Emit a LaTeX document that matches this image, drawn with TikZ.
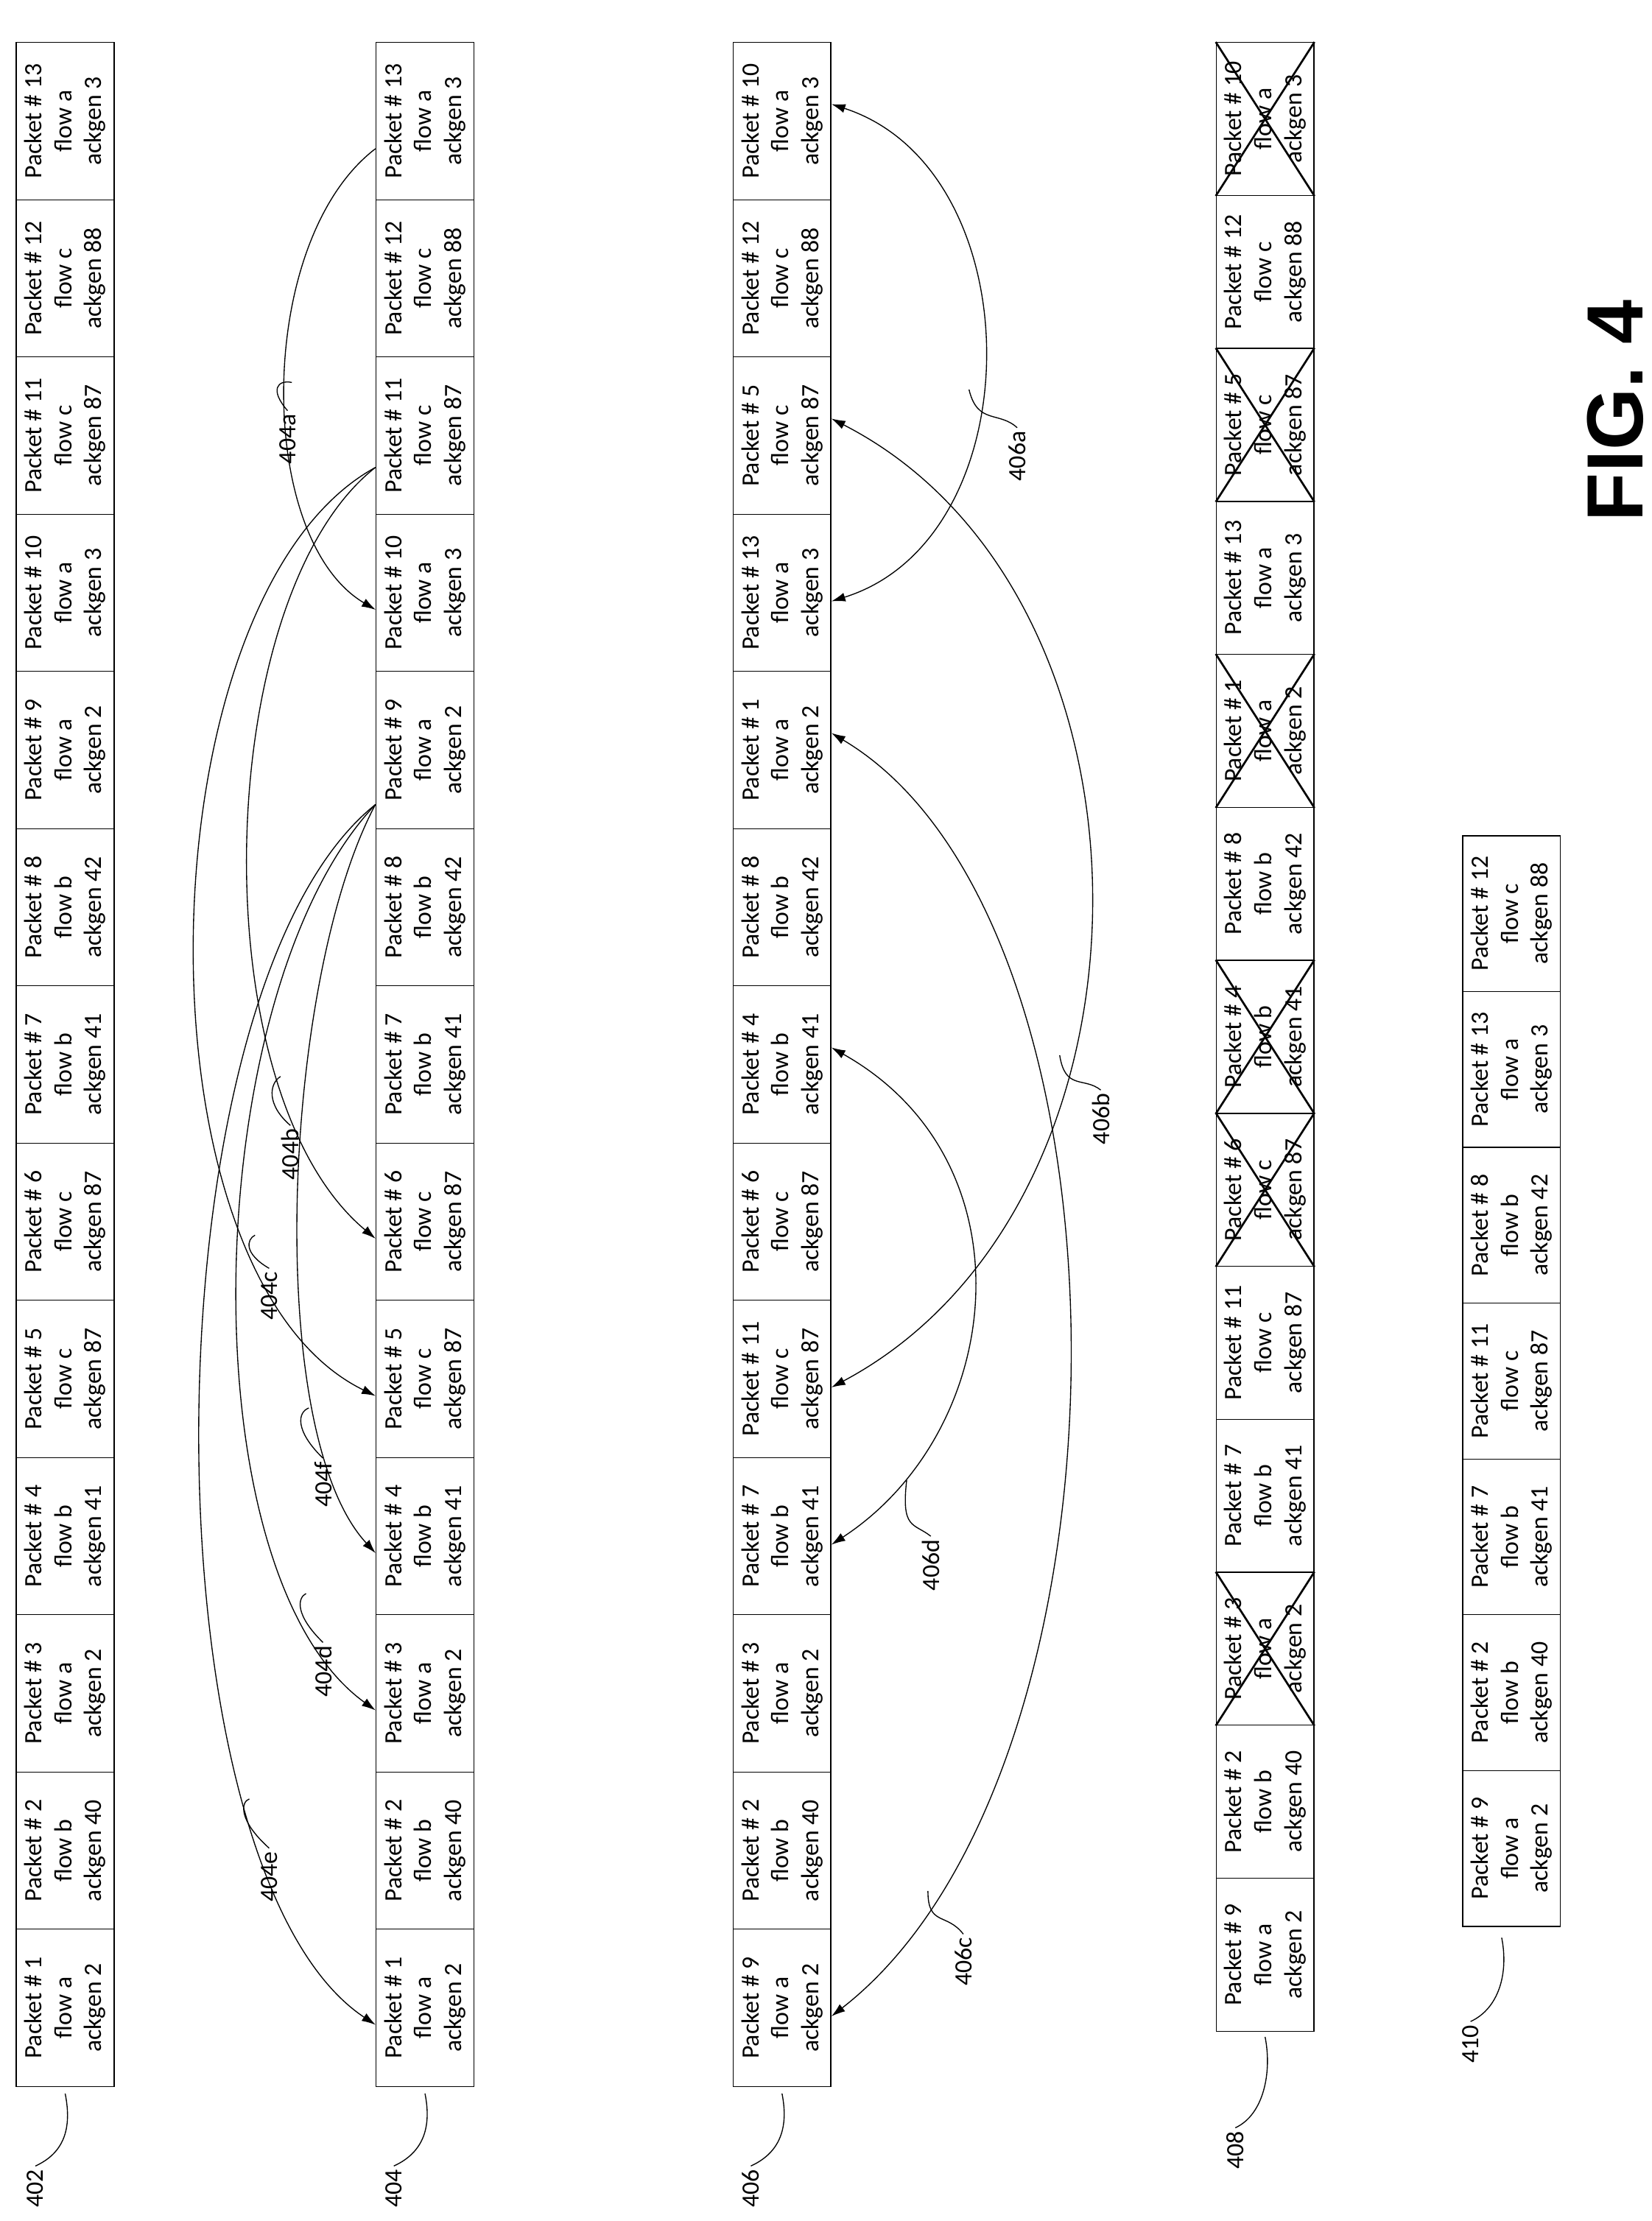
\documentclass[tikz,border=0pt]{standalone}
\usepackage{fontspec}
\usetikzlibrary{arrows.meta}
\setmainfont{Carlito}
\newfontfamily\figfont{Liberation Sans}
\begin{document}
\begin{tikzpicture}[x=0.05cm,y=-0.05cm,
  pbox/.style={draw,line width=1pt,rotate=90,minimum width=5.55cm,minimum height=3.45cm,inner sep=0pt,align=center,font=\fontsize{25}{30}\selectfont},
  pbox8/.style={pbox,minimum width=5.4cm},
  pbox10/.style={pbox,minimum width=5.5cm},
  arr/.style={line width=1pt,-{Latex[length=14pt,width=9pt]}},
  darr/.style={line width=1pt,{Latex[length=14pt,width=9pt]}-{Latex[length=14pt,width=9pt]}},
  lbl/.style={rotate=90,font=\fontsize{25}{29}\selectfont},
  hook/.style={line width=1pt}]
\useasboundingbox (0,0) rectangle (1166,1568);
\newcommand{\pk}[3]{Packet \# #1\\flow #2\\ackgen #3}
% column 402 and 404
\foreach \n/\f/\a [count=\k] in {13/a/3,12/c/88,11/c/87,10/a/3,9/a/2,8/b/42,7/b/41,6/c/87,5/c/87,4/b/41,3/a/2,2/b/40,1/a/2}{
  \node[pbox] (a\n) at (46,{30+111*(\k-0.5)}) {\pk{\n}{\f}{\a}};
  \node[pbox] (b\n) at (300,{30+111*(\k-0.5)}) {\pk{\n}{\f}{\a}};
}
\foreach \n/\f/\a [count=\k] in {10/a/3,12/c/88,5/c/87,13/a/3,1/a/2,8/b/42,4/b/41,6/c/87,11/c/87,7/b/41,3/a/2,2/b/40,9/a/2}{
  \node[pbox] (c\n) at (552,{30+111*(\k-0.5)}) {\pk{\n}{\f}{\a}};
  \node[pbox8] (d\n) at (893,{30+108*(\k-0.5)}) {\pk{\n}{\f}{\a}};
}
\foreach \n/\f/\a [count=\k] in {12/c/88,13/a/3,8/b/42,11/c/87,7/b/41,2/b/40,9/a/2}{
  \node[pbox10] (e\n) at (1067,{590+110*(\k-0.5)}) {\pk{\n}{\f}{\a}};
}
% crosses
\foreach \n in {10,5,1,4,6,3}{
  \draw[line width=2pt] (d\n.north west) -- (d\n.south east);
  \draw[line width=2pt] (d\n.north east) -- (d\n.south west);
}
% 404 arrows
\coordinate (s13) at (265,105);
\coordinate (s11) at (265,330);
\coordinate (s9) at (265,568);
\draw[arr] (s13) .. controls (180,170) and (180,380) .. ([yshift=-0.6cm]b10.north);
\draw[arr] (s11) .. controls (150,420) and (140,770) .. ([yshift=-0.6cm]b6.north);
\draw[arr] (s11) .. controls (100,420) and (90,900) .. ([yshift=-0.6cm]b5.north);
\draw[arr] (s9) .. controls (200,690) and (185,1010) .. ([yshift=-0.6cm]b4.north);
\draw[arr] (s9) .. controls (140,700) and (130,1110) .. ([yshift=-0.6cm]b3.north);
\draw[arr] (s9) .. controls (100,700) and (100,1320) .. ([yshift=-0.6cm]b1.north);
% 404 labels
\node[lbl] (l404a) at (203,310) {404a};
\draw[hook] (l404a.east) .. controls (190,275) and (196,268) .. (206,270);
\node[lbl] (l404b) at (205,815) {404b};
\draw[hook] (l404b.east) .. controls (188,780) and (190,765) .. (198,760);
\node[lbl] (l404c) at (190,915) {404c};
\draw[hook] (l404c.east) .. controls (172,885) and (174,875) .. (180,872);
\node[lbl] (l404f) at (228,1048) {404f};
\draw[hook] (l404f.east) .. controls (208,1010) and (210,997) .. (218,994);
\node[lbl] (l404d) at (228,1180) {404d};
\draw[hook] (l404d.east) .. controls (208,1140) and (210,1128) .. (216,1125);
\node[lbl] (l404e) at (190,1325) {404e};
\draw[hook] (l404e.east) .. controls (168,1285) and (170,1272) .. (176,1270);
% 406 arrows
\draw[darr] ([yshift=0.6cm]c10.south) .. controls (730,120) and (730,380) .. ([yshift=-0.3cm]c13.south);
\draw[darr] ([yshift=0.6cm]c5.south) .. controls (830,420) and (830,850) .. ([yshift=-0.3cm]c11.south);
\draw[darr] ([yshift=0.6cm]c1.south) .. controls (810,650) and (810,1250) .. ([yshift=-0.3cm]c9.south);
\draw[darr] ([yshift=0.6cm]c4.south) .. controls (730,820) and (710,1010) .. ([yshift=-0.3cm]c7.south);
\node[lbl] (l406a) at (718,322) {406a};
\draw[hook] (l406a.east) .. controls (705,290) and (690,300) .. (684,275);
\node[lbl] (l406b) at (777,790) {406b};
\draw[hook] (l406b.east) .. controls (765,760) and (752,770) .. (748,745);
\node[lbl] (l406c) at (680,1385) {406c};
\draw[hook] (l406c.east) .. controls (668,1350) and (655,1360) .. (655,1335);
\node[lbl] (l406d) at (657,1105) {406d};
\draw[hook] (l406d.east) .. controls (645,1075) and (636,1080) .. (640,1045);
% column labels
\foreach \t/\x/\y/\bx/\by in {402/25/1545/46/1478,404/278/1545/300/1478,406/530/1545/552/1478,408/872/1518/893/1438,410/1038/1443/1060/1368}{
  \node[lbl] (L\t) at (\x,\y) {\t};
  \draw[hook] (L\t.east) .. controls ({\x+20},{\y-25}) and ({\bx+5},{\by+25}) .. (\bx,\by);
}
\node[rotate=90,font=\figfont\bfseries\fontsize{80}{90}\selectfont] (fig) at (1140,290) {FIG. 4};
\end{tikzpicture}
\end{document}
